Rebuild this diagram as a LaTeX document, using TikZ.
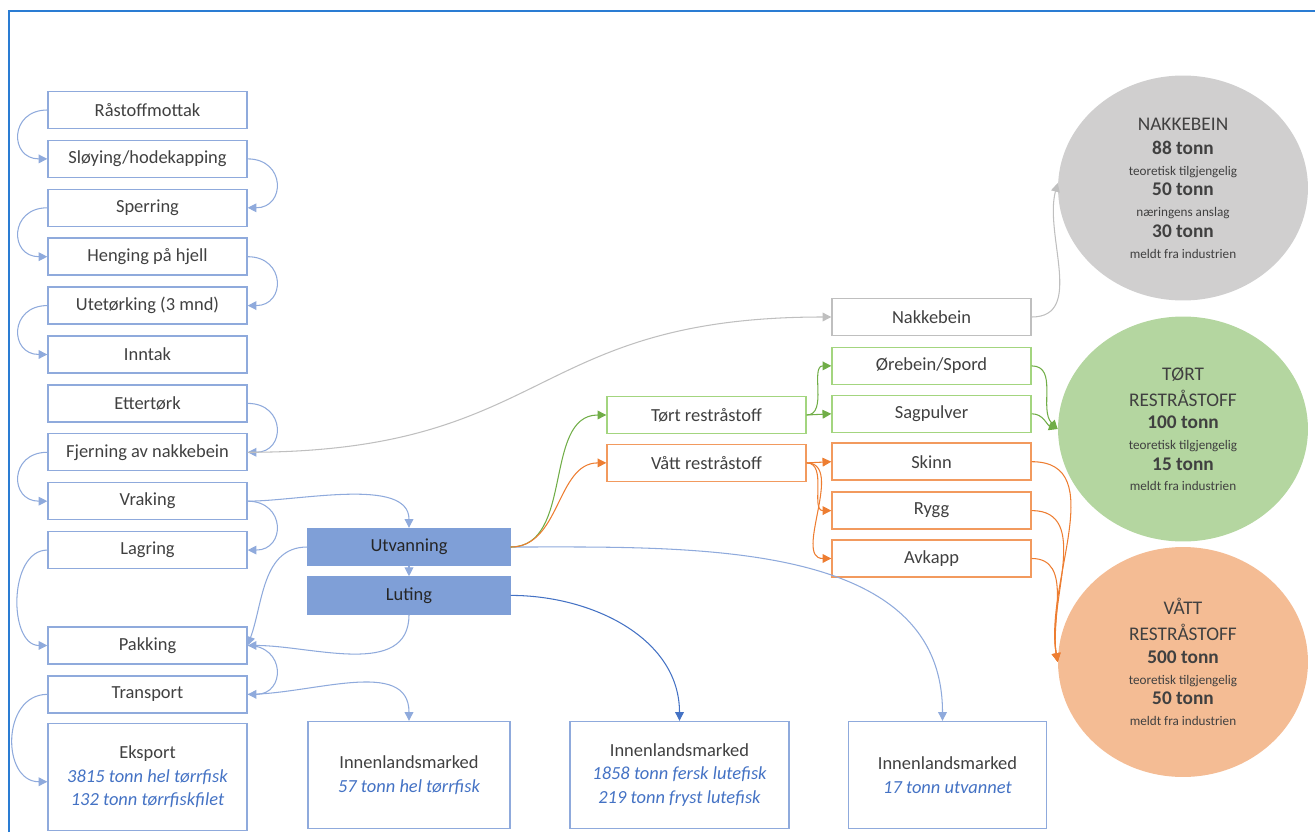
\documentclass[tikz,border=0pt]{standalone}
\usepackage{fontspec}
\setmainfont{Carlito}
\usetikzlibrary{shapes.geometric, arrows.meta}
\usetikzlibrary{positioning}
\usepackage{xcolor}

\definecolor{procline}{HTML}{8FAADC}
\definecolor{lutefill}{HTML}{7F9FD7}
\definecolor{dryline}{HTML}{A3D57F}
\definecolor{wetline}{HTML}{F29A5E}
\definecolor{boneline}{HTML}{BFBFBF}
\definecolor{txtgray}{HTML}{404040}
\definecolor{numblue}{HTML}{4472C4}
\definecolor{framecol}{HTML}{2A7CD3}
\definecolor{bonefill}{HTML}{D0CFCF}
\definecolor{dryfill}{HTML}{B4D6A0}
\definecolor{wetfill}{HTML}{F4BC94}
\definecolor{greenarr}{HTML}{70AD47}
\definecolor{orangearr}{HTML}{ED7D31}

\tikzstyle{proc} = [rectangle, minimum width=3.98cm, minimum height=0.74cm, inner sep=0pt, text centered, draw=procline, line width=0.8pt, text=txtgray, font=\fontsize{10.5}{12.6}\selectfont]
\tikzstyle{lute} = [proc, draw=lutefill, fill=lutefill, minimum width=4.04cm, text=black!85]
\tikzstyle{dry} = [proc, draw=dryline]
\tikzstyle{wet} = [proc, draw=wetline]
\tikzstyle{bone} = [proc, draw=boneline]
\tikzstyle{market} = [proc, minimum height=2.14cm, align=center, font=\fontsize{10.5}{13.6}\selectfont]
\tikzstyle{blob} = [ellipse, minimum width=5cm, minimum height=4.5cm, inner sep=0pt, align=center, text=txtgray, font=\fontsize{7.5}{11.8}\selectfont]
\tikzstyle{arrow} = [line width=0.6pt, draw=procline, -{Triangle[length=5pt,width=5pt]}]

\newcommand{\tonn}[1]{{\fontsize{11}{11.8}\selectfont\bfseries #1}}
\newcommand{\head}[1]{{\fontsize{11}{11.8}\selectfont #1}}

\begin{document}
\begin{tikzpicture}[x=0.02cm, y=-0.02cm]
\useasboundingbox (0,0) rectangle (1315,832);

\draw [framecol, line width=1.5pt] (9,832) -- (9,11) -- (1315,11);

% process chain
\node (raa) [proc] at (147.5,110) {Råstoffmottak};
\node (sloy) [proc, below=2.1mm of raa] {Sløying/hodekapping};
\node (sperr) [proc, below=2.1mm of sloy] {Sperring};
\node (heng) [proc, below=2.1mm of sperr] {Henging på hjell};
\node (ute) [proc, below=2.1mm of heng] {Utetørking (3 mnd)};
\node (inn) [proc, below=2.1mm of ute] {Inntak};
\node (etter) [proc, below=2.1mm of inn] {Ettertørk};
\node (fjern) [proc, below=2.1mm of etter] {Fjerning av nakkebein};
\node (vrak) [proc, below=2.1mm of fjern] {Vraking};
\node (lag) [proc, below=2.1mm of vrak] {Lagring};
\node (pakk) [proc, below=11.4mm of lag] {Pakking};
\node (trans) [proc, below=2.1mm of pakk] {Transport};
\node (eksp) [market, below=1.8mm of trans] {Eksport\\\textcolor{numblue}{\itshape 3815 tonn hel tørrfisk}\\\textcolor{numblue}{\itshape 132 tonn tørrfiskfilet}};

\node (utv) [lute] at (409,547) {Utvanning};
\node (lut) [lute, below=2mm of utv] {Luting};

\node (inn1) [market, minimum width=4.04cm] at (409,775) {Innenlandsmarked\\\textcolor{numblue}{\itshape 57 tonn hel tørrfisk}};
\node (inn2) [market, minimum width=4.38cm] at (679.5,775) {Innenlandsmarked\\\textcolor{numblue}{\itshape 1858 tonn fersk lutefisk}\\\textcolor{numblue}{\itshape 219 tonn fryst lutefisk}};
\node (inn3) [market, minimum width=3.95cm] at (947.5,775) {Innenlandsmarked\\\textcolor{numblue}{\itshape 17 tonn utvannet}};

% by-products
\node (tort) [dry] at (706.5,415) {Tørt restråstoff};
\node (vaat) [wet, below=1.9mm of tort] {Vått restråstoff};

\node (nakk) [bone] at (931.5,317) {Nakkebein};
\node (oreb) [dry, below=2.1mm of nakk] {Ørebein/Spord};
\node (sag) [dry, below=1.9mm of oreb] {Sagpulver};
\node (skinn) [wet, below=1.9mm of sag] {Skinn};
\node (rygg) [wet, below=2.1mm of skinn] {Rygg};
\node (avk) [wet, below=1.9mm of rygg] {Avkapp};

\node (nakkblob) [blob, fill=bonefill] at (1183,188) {\head{NAKKEBEIN}\\[2pt]\tonn{88 tonn}\\teoretisk tilgjengelig\\\tonn{50 tonn}\\næringens anslag\\\tonn{30 tonn}\\meldt fra industrien};
\node (dryblob) [blob, fill=dryfill] at (1183,429) {\head{TØRT}\\[3pt]\head{RESTRÅSTOFF}\\[1pt]\tonn{100 tonn}\\teoretisk tilgjengelig\\\tonn{15 tonn}\\meldt fra industrien};
\node (wetblob) [blob, fill=wetfill, minimum height=4.6cm] at (1183,662) {\head{VÅTT}\\[3pt]\head{RESTRÅSTOFF}\\[1pt]\tonn{500 tonn}\\teoretisk tilgjengelig\\\tonn{50 tonn}\\meldt fra industrien};

% chain arrows
\draw [arrow] (raa.west) to[out=180,in=180,looseness=2] (sloy.west);
\draw [arrow] (sloy.east) to[out=0,in=0,looseness=2] (sperr.east);
\draw [arrow] (sperr.west) to[out=180,in=180,looseness=2] (heng.west);
\draw [arrow] (heng.east) to[out=0,in=0,looseness=2] (ute.east);
\draw [arrow] (ute.west) to[out=180,in=180,looseness=2] (inn.west);
\draw [arrow] (etter.east) to[out=0,in=0,looseness=2] (fjern.east);
\draw [arrow] (fjern.west) to[out=180,in=180,looseness=2] (vrak.west);
\draw [arrow] (vrak.east) to[out=0,in=0,looseness=2] (lag.east);
\draw [arrow] (lag.west) to[out=180,in=180,looseness=1.05] (pakk.west);
\draw [arrow] (pakk.east) to[out=0,in=0,looseness=2] (trans.east);
\draw [arrow] (trans.west) to[out=180,in=180,looseness=1.35] ([yshift=-0.1cm]eksp.west);

\draw [arrow] (vrak.east) to[out=0,in=90,looseness=0.8] (utv.north);
\draw [arrow] (utv.south) -- (lut.north);
\draw [arrow] (utv.west) to[out=180,in=70] (pakk.east);
\draw [arrow] (lut.south) to[out=-90,in=0] (pakk.east);
\draw [arrow] (trans.east) to[out=0,in=90] (inn1.north);
\draw [arrow, draw=numblue] (lut.east) to[out=0,in=90] (inn2.north);
\draw [arrow] (utv.east) to[out=0,in=90] ([xshift=-0.1cm]inn3.north);

% by-product arrows
\draw [arrow, draw=boneline] (fjern.east) to[out=0,in=180,looseness=1.3] (nakk.west);
\draw [arrow, draw=boneline] (nakk.east) to[out=0,in=255] ([yshift=0.1cm]nakkblob.west);
\draw [arrow, draw=greenarr] (utv.east) to[out=0,in=180] (tort.west);
\draw [arrow, draw=orangearr] (utv.east) to[out=0,in=180] (vaat.west);
\draw [arrow, draw=greenarr] (tort.east) to[out=0,in=180] (oreb.west);
\draw [arrow, draw=greenarr] (tort.east) -- (sag.west);
\draw [arrow, draw=orangearr] (vaat.east) -- (skinn.west);
\draw [arrow, draw=orangearr] (vaat.east) to[out=0,in=180] (rygg.west);
\draw [arrow, draw=orangearr] (vaat.east) to[out=0,in=180] (avk.west);
\draw [arrow, draw=greenarr] (oreb.east) to[out=0,in=135] (dryblob.west);
\draw [arrow, draw=greenarr] (sag.east) to[out=0,in=160] (dryblob.west);
\draw [arrow, draw=orangearr] (skinn.east) to[out=0,in=100] (wetblob.west);
\draw [arrow, draw=orangearr] (rygg.east) to[out=0,in=100] (wetblob.west);
\draw [arrow, draw=orangearr] (avk.east) to[out=0,in=100] (wetblob.west);

\end{tikzpicture}
\end{document}
